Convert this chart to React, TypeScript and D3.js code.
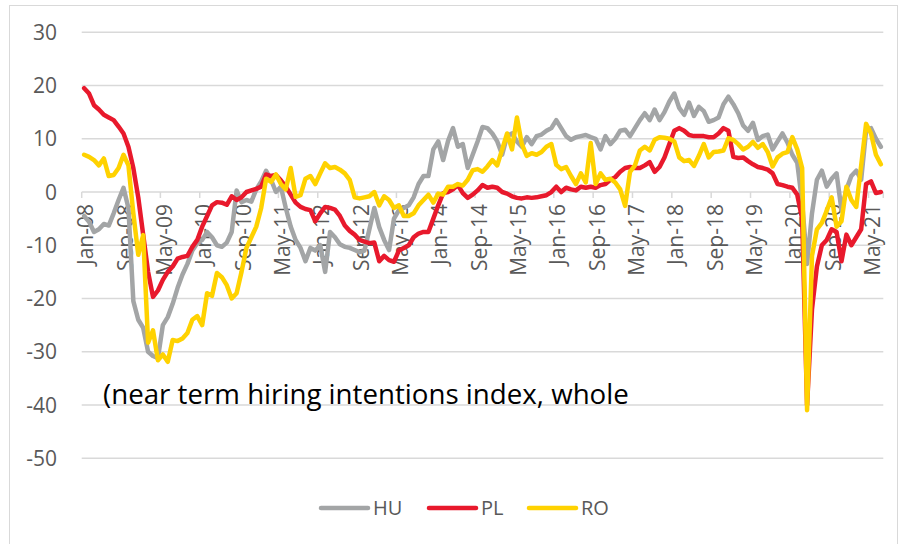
import React from "react";
import * as d3 from "d3";

const months: string[] = (() => {
  const names = ["Jan","Feb","Mar","Apr","May","Jun","Jul","Aug","Sep","Oct","Nov","Dec"];
  const out: string[] = [];
  for (let y = 2008; y <= 2021; y++) {
    for (let m = 0; m < 12; m++) {
      if (y === 2021 && m > 6) break;
      out.push(`${names[m]}-${String(y % 100).padStart(2, "0")}`);
    }
  }
  return out;
})();

const HU: number[] = [
  -4.5,-5.6,-7.5,-7,-6,-6.3,-4,-1.5,0.8,-3,
  -20.5,-24,-25.5,-30,-30.8,-31.2,-25,-23.5,-21,-18,
  -15.5,-13.5,-11,-9.6,-9,-7.5,-8.5,-10,-10.3,-9.5,
  -7.5,0.3,-1.9,-1.5,-1.8,0.5,2,4,2.3,0,
  1,-3,-6.5,-9,-10.5,-13,-10.5,-11,-10,-15,
  -7.5,-8.5,-9.8,-10.3,-10.5,-10.9,-11.3,-11,-7,-3,
  -6.6,-9,-10.9,-5,-3.4,-3,-2.5,-1,1.5,3,
  3,8,9.5,6,9.6,12,8.5,9,4.5,7,
  9.5,12.2,12,11,9.5,7,10.5,11,9.5,8.5,
  10.3,9,10.5,10.8,11.5,12,13.5,12,10.5,9.8,
  10.3,10.5,10.7,10.3,10,8,10.5,9,10,11.5,
  11.7,10.5,12,13.5,14.8,13.5,15.5,13.5,15,17,
  18.5,15.8,14.5,16.8,14.3,16,15.2,13.2,13.5,14,
  16.5,17.9,16.5,14.8,12.5,11.5,13,9.8,10.5,10.8,
  8,9.5,11,9.3,7,5.5,-2,-13.5,-4,2.3,
  4,1,2.5,3.5,-3.4,0.5,3,4,2.3,11.5,
  12,10,8.5,
];

const PL: number[] = [
  19.5,18.5,16.3,15.5,14.5,14,13.5,12.3,11,8.5,
  4.5,-1,-8,-15,-19.7,-18.5,-16.5,-15,-14,-12.5,
  -12.2,-12,-10.3,-9,-6.5,-4.5,-2.5,-1.9,-2,-2.4,
  -0.8,-1.5,-1,0,0.3,0.6,1,3.3,3,3.2,
  2.2,1,-0.5,-2,-2.8,-3.2,-3.4,-5.5,-4,-2.8,
  -3,-3.3,-4.5,-6.3,-7.3,-8,-9,-9.3,-9.6,-9.5,
  -13,-12,-12.8,-13.1,-11,-10.5,-10,-8.5,-7.8,-7.5,
  -7.5,-5,-2.5,-0.2,0,0.5,1.3,-0.2,-1.1,-0.5,
  0.3,1.3,0.8,1,0.8,0,-0.3,-0.8,-1.1,-1.2,
  -1,-1.1,-1,-0.8,-0.6,0,1,0,0.8,0.5,
  0.3,1,0.8,1,0.8,1.3,1.5,2.3,2.8,3.8,
  4.5,4.7,4.5,4.5,5,5.6,3.8,4.7,6.5,9,
  11.5,12,11.5,10.7,10.5,10.5,10.5,10.3,10.3,11,
  12,11.5,6.6,6.4,6.5,5.8,5.2,4.7,4.5,4.2,
  3.5,1.5,1.3,1,0.8,-0.5,-5,-40,-22,-14,
  -10,-9,-7,-7.5,-13,-8,-10,-8.5,-7,1.5,
  2,-0.2,0,
];

const RO: number[] = [
  7,6.6,6,5,6.3,3,3.2,4.5,7,5,
  -4,-11.8,-8.1,-28.3,-26,-31.6,-30.5,-31.9,-27.8,-28,
  -27.5,-26.5,-24,-23.3,-25,-19,-19.5,-15.2,-16,-17.5,
  -20,-19,-15,-10.5,-8.5,-6.5,-3,2.5,1.9,3.3,
  1.5,0.5,4.5,-0.9,-0.6,2.5,3,1.5,3.5,5.4,
  4.5,4.7,4.2,3.5,2.3,-1,-1.2,-1,-0.8,0,
  -2.5,-0.8,-1.5,-3,-2.5,-4.5,-4.5,-4,-2.5,-1.5,
  -0.5,-2,-0.3,-0.5,1,1,1.5,1.2,2.3,4.1,
  4.3,3.8,4.8,6,5,8,11,8,14,9,
  6.8,7.3,7,7.5,8.5,9,5.1,4.3,4.7,3,
  1.5,3.5,1.8,9.2,1.5,3.5,2.3,2.5,1.8,0.5,
  -2.6,3.8,5,7.8,8.5,7.8,9.8,10.3,10.2,10,
  9.5,6.5,5.8,6,4.9,6.8,9,6.5,7.5,7.6,
  7.8,10.1,9.8,9,8,8.5,9.4,8.3,9,7.5,
  4.8,6.5,7.2,7.5,10.3,8,4.5,-41,-12,-7,
  -5.8,-3.5,-1,-6.5,-5.5,1,-1.5,-2.8,5,12.8,
  11,7,5.2,
];

const yTicks: number[] = [30, 20, 10, 0, -10, -20, -30, -40, -50];
const seriesNames: string[] = ["HU", "PL", "RO"];
const seriesColors: string[] = ["#A3A5A6", "#E8192C", "#FFD200"];
const annotation = "(near term hiring intentions index, whole";

const W = 902;
const H = 544;
const left = 81.7;
const right = 883.3;
const top = 32.3;
const bottom = 458.2;
const FONT = "'Open Sans', 'Noto Sans', sans-serif";

export default function App() {
  const x = d3.scaleBand<string>().domain(months).range([left, right]).paddingInner(0).paddingOuter(0);
  const y = d3.scaleLinear().domain([-50, 30]).range([bottom, top]);
  const bw = x.bandwidth();
  const cx = (i: number) => (x(months[i]) as number) + bw / 2;
  const line = d3
    .line<number>()
    .x((_, i) => cx(i))
    .y((d) => y(d));
  const data = [HU, PL, RO];
  const y0 = y(0);

  const labelIdx = months.map((_, i) => i).filter((i) => i % 8 === 0);
  const tickIdx = [...labelIdx, months.length];

  const legendItems = [
    { name: seriesNames[0], color: seriesColors[0], x: 321 },
    { name: seriesNames[1], color: seriesColors[1], x: 429 },
    { name: seriesNames[2], color: seriesColors[2], x: 529 },
  ];

  return (
    <svg
      width={W}
      height={H}
      style={{ position: "absolute", left: 0, top: 0, background: "#fff" }}
      fontFamily={FONT}
    >
      <rect x={9.5} y={5.5} width={888} height={560} fill="#fff" stroke="#D9D9D9" strokeWidth={1} />
      {yTicks.map((t) => (
        <g key={t}>
          <line x1={left} x2={right} y1={y(t)} y2={y(t)} stroke="#D9D9D9" strokeWidth={1.5} />
          <text x={57} y={y(t)} dy="0.36em" textAnchor="end" fontSize={21} fill="#595959">
            {t}
          </text>
        </g>
      ))}
      {tickIdx.map((i) => {
        const xx = i < months.length ? (x(months[i]) as number) : right;
        return <line key={"t" + i} x1={xx} x2={xx} y1={y0} y2={y0 + 6} stroke="#D9D9D9" strokeWidth={1.5} />;
      })}
      {labelIdx.map((i) => (
        <text
          key={"l" + i}
          transform={`translate(${cx(i) + 1.5},${y0 + 12}) rotate(-90)`}
          textAnchor="end"
          dy="0.36em"
          fontSize={21}
          fill="#595959"
        >
          {months[i]}
        </text>
      ))}
      {data.map((d, k) => (
        <path
          key={seriesNames[k]}
          d={line(d) || ""}
          fill="none"
          stroke={seriesColors[k]}
          strokeWidth={4.5}
          strokeLinejoin="round"
          strokeLinecap="round"
        />
      ))}
      <text x={103} y={404} fontSize={27.7} fill="#000">
        {annotation}
      </text>
      {legendItems.map((it) => (
        <g key={it.name}>
          <line x1={it.x} x2={it.x + 47} y1={508} y2={508} stroke={it.color} strokeWidth={4.5} strokeLinecap="round" />
          <text x={it.x + 52} y={508} dy="0.36em" fontSize={20} fill="#595959">
            {it.name}
          </text>
        </g>
      ))}
    </svg>
  );
}
